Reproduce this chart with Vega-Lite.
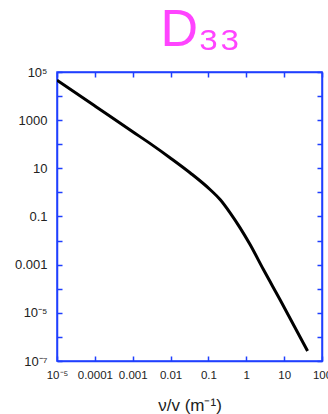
{
  "$schema": "https://vega.github.io/schema/vega-lite/v6.json",
  "width": 265,
  "height": 289,
  "autosize": "none",
  "padding": {"left": 57, "top": 72, "right": 6, "bottom": 53},
  "background": "white",
  "title": {
    "text": "D₃₃",
    "color": "#ff44ff",
    "font": "Liberation Sans",
    "fontSize": 52,
    "fontWeight": "normal",
    "anchor": "middle",
    "baseline": "alphabetic",
    "dx": 11,
    "offset": -32
  },
  "data": {
    "values": [
      {"x": 0.00001, "y": 45700},
      {"x": 0.0001, "y": 3890},
      {"x": 0.001, "y": 331},
      {"x": 0.00291, "y": 106},
      {"x": 0.00984, "y": 27.0},
      {"x": 0.0332, "y": 6.41},
      {"x": 0.112, "y": 1.29},
      {"x": 0.206, "y": 0.497},
      {"x": 0.378, "y": 0.139},
      {"x": 0.693, "y": 0.033},
      {"x": 1.27, "y": 0.00667},
      {"x": 2.86, "y": 0.00061},
      {"x": 7.87, "y": 0.0000344},
      {"x": 41.6, "y": 0.00000026}
    ]
  },
  "layer": [
    {
      "mark": {"type": "line", "color": "black", "strokeWidth": 3, "interpolate": "monotone", "clip": true},
      "encoding": {
        "x": {
          "field": "x",
          "type": "quantitative",
          "scale": {"type": "log", "domain": [0.00001, 100], "nice": false},
          "axis": {
            "orient": "bottom",
            "title": "ν/v (m⁻¹)",
            "titleFontSize": 17,
            "titlePadding": 17,
            "values": [0.00001, 0.0001, 0.001, 0.01, 0.1, 1, 10, 100],
            "labelExpr": "['10⁻⁵','0.0001','0.001','0.01','0.1','1','10','100'][round(log(datum.value)/LN10)+5]",
            "labelFontSize": 11.5,
            "labelPadding": 13
          }
        },
        "y": {
          "field": "y",
          "type": "quantitative",
          "scale": {"type": "log", "domain": [0.0000001, 100000], "nice": false},
          "axis": {
            "orient": "left",
            "title": null,
            "values": [0.0000001, 0.000001, 0.00001, 0.0001, 0.001, 0.01, 0.1, 1, 10, 100, 1000, 10000, 100000],
            "labelExpr": "['10⁻⁷','','10⁻⁵','','0.001','','0.1','','10','','1000','','10⁵'][round(log(datum.value)/LN10)+7]",
            "labelFontSize": 13,
            "labelPadding": 15
          }
        }
      }
    },
    {
      "mark": {"type": "line", "opacity": 0},
      "encoding": {
        "x": {
          "field": "x",
          "type": "quantitative",
          "scale": {"type": "log", "domain": [0.00001, 100], "nice": false},
          "axis": {
            "orient": "top",
            "title": null,
            "labels": false,
            "values": [0.00001, 0.0001, 0.001, 0.01, 0.1, 1, 10, 100]
          }
        },
        "y": {
          "field": "y",
          "type": "quantitative",
          "scale": {"type": "log", "domain": [0.0000001, 100000], "nice": false},
          "axis": {
            "orient": "right",
            "title": null,
            "labels": false,
            "values": [0.0000001, 0.000001, 0.00001, 0.0001, 0.001, 0.01, 0.1, 1, 10, 100, 1000, 10000, 100000]
          }
        }
      }
    }
  ],
  "resolve": {"axis": {"x": "independent", "y": "independent"}},
  "config": {
    "view": {"stroke": "#1f3fff", "strokeWidth": 1.5},
    "axis": {
      "domainColor": "#1f3fff",
      "domainWidth": 1.5,
      "tickColor": "#1f3fff",
      "tickWidth": 1.5,
      "tickSize": -5,
      "grid": false,
      "labelFont": "Liberation Sans",
      "labelColor": "#222222",
      "titleFont": "Liberation Sans",
      "titleColor": "#222222",
      "titleFontWeight": "normal",
      "labelOverlap": false,
      "labelFlush": false
    }
  }
}
